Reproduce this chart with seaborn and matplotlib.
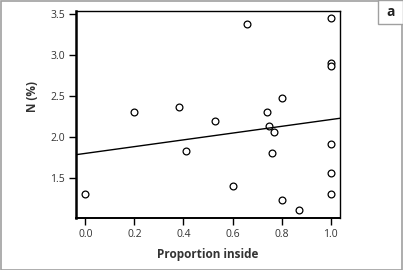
import matplotlib
matplotlib.use("Agg")
import matplotlib.pyplot as plt
import seaborn as sns
import pandas as pd
from matplotlib.patches import Rectangle

proportion_inside = [0.0, 0.20, 0.38, 0.41, 0.53, 0.60, 0.66, 0.74, 0.75, 0.77,
                     0.76, 0.80, 0.80, 0.87, 1.0, 1.0, 1.0, 1.0, 1.0, 1.0]
n_percent = [1.30, 2.30, 2.36, 1.83, 2.20, 1.40, 3.38, 2.30, 2.13, 2.06,
             1.80, 2.48, 1.23, 1.10, 3.45, 2.91, 2.87, 1.91, 1.56, 1.30]
x_ticks = [0.0, 0.2, 0.4, 0.6, 0.8, 1.0]
y_ticks = [1.5, 2.0, 2.5, 3.0, 3.5]
x_label = "Proportion inside"
y_label = "N (%)"
panel_label = "a"

df = pd.DataFrame({"x": proportion_inside, "y": n_percent})

sns.set_style("white")
plt.rcParams['font.family'] = ['Open Sans', 'DejaVu Sans']

W, H = 403, 270
fig = plt.figure(figsize=(W / 100, H / 100), dpi=100)
ax = fig.add_axes([76 / W, (H - 218) / H, (340 - 76) / W, (218 - 10.7) / H])

sns.regplot(data=df, x="x", y="y", ax=ax, ci=None, truncate=False,
            scatter_kws=dict(s=24, facecolor="white", edgecolor="black", linewidths=0.9, alpha=1),
            line_kws=dict(color="black", lw=1.0))

ax.set_xlim(-0.038, 1.038)
ax.set_ylim(1.007, 3.545)
ax.set_xticks(x_ticks)
ax.set_xticklabels([f"{v:.1f}" for v in x_ticks])
ax.set_yticks(y_ticks)
ax.set_yticklabels([f"{v:.1f}" for v in y_ticks])
ax.tick_params(axis="both", direction="out", length=5, width=1.0, colors="black",
               labelsize=7.5, labelcolor="#333333", pad=3)
ax.tick_params(axis="x", bottom=True)
ax.tick_params(axis="y", left=True)
for side, sp in ax.spines.items():
    sp.set_visible(True)
    sp.set_color("black")
    sp.set_linewidth(1.0)
ax.spines["left"].set_linewidth(1.8)
ax.spines["bottom"].set_linewidth(1.4)

ax.set_xlabel(x_label, fontsize=8.5, fontweight="bold", color="#333333", labelpad=6)
ax.set_ylabel(y_label, fontsize=8.5, fontweight="bold", color="#333333")
ax.yaxis.set_label_coords(-0.14, 0.585)

# figure border
fig.patches.append(Rectangle((0.5 / W, 0.5 / H), (W - 1.5) / W, (H - 1.5) / H,
                             transform=fig.transFigure, fill=False,
                             edgecolor="#a0a0a0", lw=1.2))
# panel label box
fig.patches.append(Rectangle((378 / W, (H - 24) / H), 25 / W, 24 / H,
                             transform=fig.transFigure, facecolor="white",
                             edgecolor="#a0a0a0", lw=1.0))
fig.text(390.5 / W, (H - 12) / H, panel_label, ha="center", va="center",
         fontsize=10, fontweight="bold", color="#222222")

fig.savefig("out.png", dpi=100)
